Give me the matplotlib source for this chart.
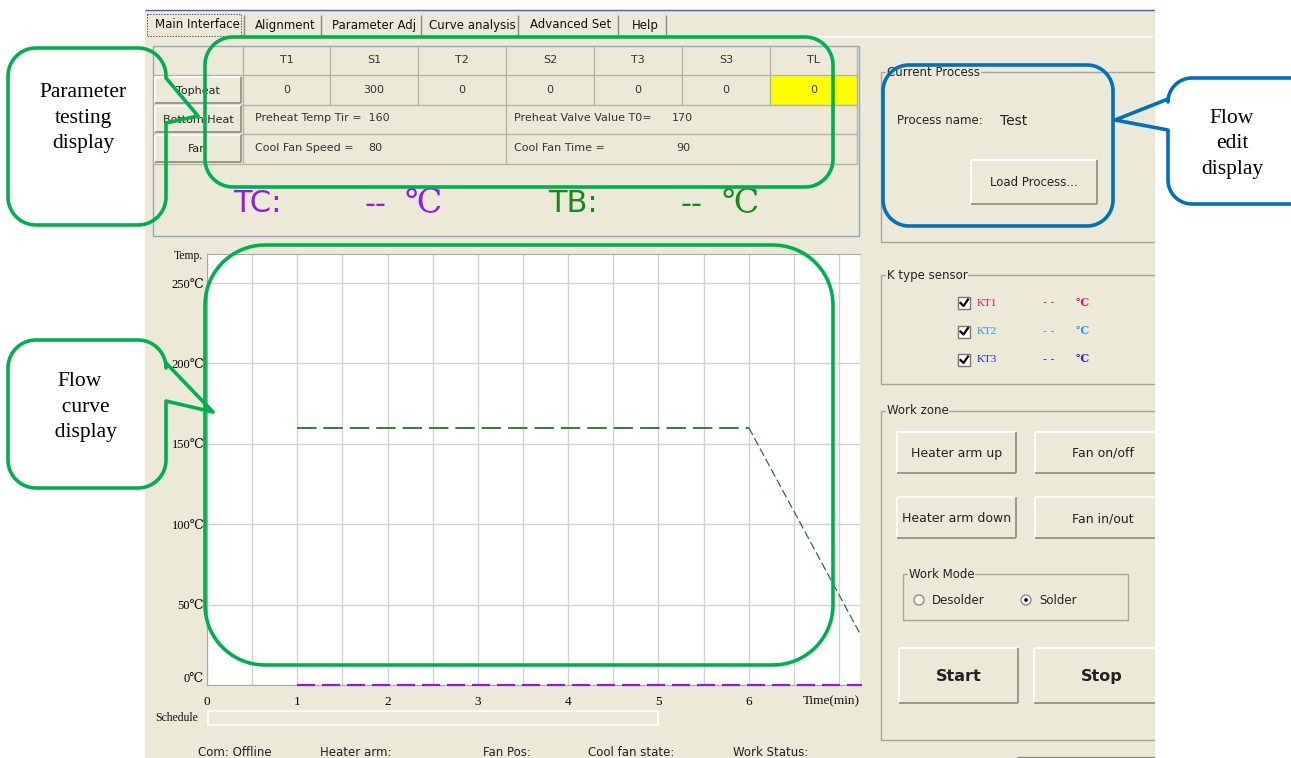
import numpy as np
import matplotlib
matplotlib.use("Agg")
import matplotlib.pyplot as plt
from matplotlib.patches import Rectangle, Polygon, Circle
from matplotlib.ticker import MultipleLocator

plt.rcParams["lines.scale_dashes"] = False

W, H = 1291, 758
BEIGE = "#ECE9D8"
LINE = "#B5B3A6"
SERIF = ["Liberation Serif", "DejaVu Serif", "Noto Sans CJK SC"]
SANS = ["DejaVu Sans", "Noto Sans CJK SC"]

# ---- data shown in the screenshot ----
tabs = ["Main Interface", "Alignment", "Parameter Adj", "Curve analysis", "Advanced Set", "Help"]
table_cols = ["T1", "S1", "T2", "S2", "T3", "S3", "TL"]
topheat_vals = [0, 300, 0, 0, 0, 0, 0]
preheat_temp = 160
preheat_valve = 170
cool_fan_speed = 80
cool_fan_time = 90
sensors = ["KT1", "KT2", "KT3"]
sensor_colors = ["#E0106A", "#2A96F0", "#2424D0"]
status_items = ["Com: Offline", "Heater arm:", "Fan Pos:", "Cool fan state:", "Work Status:"]

# reflow profile (min, degC)
set_time = [1, 6]
set_temp = [160, 160]
cool_time = [6, 7.25]
cool_temp = [160, 30]
tc_time = [1, 7.25]
tc_temp = [0, 0]
y_ticks = [0, 50, 100, 150, 200, 250]
x_ticks = [0, 1, 2, 3, 4, 5, 6]

fig = plt.figure(figsize=(W / 100, H / 100), dpi=100)
fig.patch.set_facecolor("white")

bg = fig.add_axes([0, 0, 1, 1], zorder=0)
bg.set_xlim(0, W)
bg.set_ylim(H, 0)
bg.axis("off")


def hline(ax, x0, x1, y, color=LINE, lw=1, z=2):
    ax.plot([x0, x1], [y, y], color=color, lw=lw, zorder=z, solid_capstyle="butt")


def vline(ax, x, y0, y1, color=LINE, lw=1, z=2):
    ax.plot([x, x], [y0, y1], color=color, lw=lw, zorder=z, solid_capstyle="butt")


def button(x0, y0, x1, y1, label, size=9, weight="normal"):
    bg.add_patch(Rectangle((x0, y0), x1 - x0, y1 - y0, fc=BEIGE, ec="none", zorder=2))
    hline(bg, x0, x1, y0, "white", 1.2, 3)
    vline(bg, x0, y0, y1, "white", 1.2, 3)
    hline(bg, x0, x1, y1, "#8C8A7E", 1.2, 3)
    vline(bg, x1, y0, y1, "#8C8A7E", 1.2, 3)
    bg.text((x0 + x1) / 2, (y0 + y1) / 2 + 1, label, ha="center", va="center",
            fontsize=size, fontweight=weight, family=SANS, color="#222222", zorder=4)


def group(x0, y0, x1, y1, label):
    bg.add_patch(Rectangle((x0, y0), x1 - x0, y1 - y0, fc="none", ec="#A8A69A", lw=1, zorder=2))
    bg.text(x0 + 6, y0, label, ha="left", va="center", fontsize=8.5, family=SANS,
            color="#222222", zorder=4,
            bbox=dict(fc=BEIGE, ec="none", pad=0.5))


# GUI background
bg.add_patch(Rectangle((145, 10), 1010, H, fc=BEIGE, ec="none", zorder=1))
hline(bg, 145, 1155, 9.5, "#3A62C0", 1.0, 2)

# tabs
tab_edges = [146, 246, 323, 423, 520, 620, 668]
for i, name in enumerate(tabs):
    x0, x1 = tab_edges[i], tab_edges[i + 1]
    bg.text((x0 + x1) / 2 + 1, 25, name, ha="center", va="center", fontsize=8.5,
            family=SANS, color="#111111", zorder=4)
    vline(bg, x1 - 2, 15, 36, "#8C8A7E", 1, 3)
bg.add_patch(Rectangle((147, 14), 94, 22, fc="none", ec="#555555", lw=0.7, ls=(0, (1, 1)), zorder=3))
hline(bg, 668, 1153, 36.5, "white", 1.2, 2)

# parameter table
bg.add_patch(Rectangle((153, 46), 706, 190, fc="none", ec="#93A6C2", lw=1, zorder=2))
col_edges = [243, 330, 418, 506, 594, 682, 770, 857]
row_edges = [46, 75, 105, 134, 164]
bg.add_patch(Rectangle((770, 75), 87, 30, fc="#FFFF00", ec="none", zorder=2))
for y in row_edges[1:]:
    hline(bg, 153, 857, y)
vline(bg, 857, 46, 164)
vline(bg, 243, 46, 164)
for x in col_edges[1:-1]:
    vline(bg, x, 46, 105)
vline(bg, 506, 105, 164)
for i, name in enumerate(table_cols):
    cx = (col_edges[i] + col_edges[i + 1]) / 2
    bg.text(cx, 60, name, ha="center", va="center", fontsize=8, family=SANS, color="#333333", zorder=4)
    bg.text(cx, 90, str(topheat_vals[i]), ha="center", va="center", fontsize=8, family=SANS,
            color="#333333", zorder=4)
button(155, 77, 241, 103, "Topheat", 8)
button(155, 106, 241, 132, "Bottom Heat", 8)
button(155, 135, 241, 162, "Fan", 8)
tkw = dict(va="center", fontsize=8, family=SANS, color="#333333", zorder=4)
bg.text(255, 118, f"Preheat Temp Tir =  {preheat_temp}", ha="left", **tkw)
bg.text(514, 118, "Preheat Valve Value T0=", ha="left", **tkw)
bg.text(672, 118, str(preheat_valve), ha="left", **tkw)
bg.text(255, 148, "Cool Fan Speed =", ha="left", **tkw)
bg.text(368, 148, str(cool_fan_speed), ha="left", **tkw)
bg.text(514, 148, "Cool Fan Time =", ha="left", **tkw)
bg.text(676, 148, str(cool_fan_time), ha="left", **tkw)

# TC / TB readouts
bg.text(233, 204, "TC:", ha="left", va="center", fontsize=22, family=SANS, color="#8A1CF0", zorder=4)
bg.text(365, 204, "--", ha="left", va="center", fontsize=22, family=SANS, color="#8A1CF0", zorder=4)
bg.text(404, 204, "℃", ha="left", va="center", fontsize=24, family=SERIF, color="#8A1CF0", zorder=4)
bg.text(548, 204, "TB:", ha="left", va="center", fontsize=22, family=SANS, color="#1E861E", zorder=4)
bg.text(680, 204, "--", ha="left", va="center", fontsize=22, family=SANS, color="#1E861E", zorder=4)
bg.text(721, 204, "℃", ha="left", va="center", fontsize=24, family=SERIF, color="#1E861E", zorder=4)

# chart labels outside plot
bg.text(203, 256, "Temp.", ha="right", va="center", fontsize=8.5, family=SERIF, color="#111111", zorder=4)
bg.text(155, 718, "Schedule", ha="left", va="center", fontsize=8.5, family=SERIF, color="#111111", zorder=4)
bg.add_patch(Rectangle((208, 711), 450, 14, fc=BEIGE, ec="white", lw=1.2, zorder=2))

# status bar along the bottom edge
for x, s in zip([198, 320, 483, 588, 733], status_items):
    bg.text(x, 756.5, s, ha="left", va="baseline", fontsize=8.5, family=SANS, color="#222222", zorder=4)
hline(bg, 1017, 1155, 756.5, "#8C8A7E", 1, 3)

# right panel
group(881, 72, 1170, 242, "Current Process")
bg.text(897, 121, "Process name:", ha="left", va="center", fontsize=8.5, family=SANS, color="#222222", zorder=4)
bg.text(1000, 121, "Test", ha="left", va="center", fontsize=10, family=SANS, color="#222222", zorder=4)
button(971, 160, 1097, 204, "Load Process...", 8.5)

group(881, 275, 1170, 384, "K type sensor")
for i, (name, col) in enumerate(zip(sensors, sensor_colors)):
    y = 303 + i * 28.5
    bg.add_patch(Rectangle((958, y - 6), 12, 12, fc="white", ec="#777777", lw=1, zorder=3))
    bg.plot([960.5, 963.5, 968], [y, y + 3, y - 3.5], color="black", lw=1.6, zorder=4)
    bg.text(977, y, name, ha="left", va="center", fontsize=8, family=SERIF, color=col, zorder=4)
    bg.text(1043, y - 1, "- -", ha="left", va="center", fontsize=8, family=SANS, color=col, zorder=4)
    bg.text(1076, y, "℃", ha="left", va="center", fontsize=8, family=SERIF, color=col,
            fontweight="bold", zorder=4)

group(881, 411, 1170, 740, "Work zone")
button(897, 432, 1016, 473, "Heater arm up", 9)
button(1035, 432, 1170, 473, "Fan on/off", 9)
button(897, 497, 1016, 538, "Heater arm down", 9)
button(1035, 497, 1170, 538, "Fan in/out", 9)
group(903, 574, 1128, 620, "Work Mode")
bg.add_patch(Circle((919, 600), 5, fc="white", ec="#8C8A7E", lw=1, zorder=3))
bg.text(932, 600, "Desolder", ha="left", va="center", fontsize=8.5, family=SANS, color="#222222", zorder=4)
bg.add_patch(Circle((1026, 600), 5, fc="white", ec="#8C8A7E", lw=1, zorder=3))
bg.add_patch(Circle((1026, 600), 1.8, fc="black", ec="none", zorder=4))
bg.text(1039, 600, "Solder", ha="left", va="center", fontsize=8.5, family=SANS, color="#222222", zorder=4)
button(899, 648, 1018, 703, "Start", 11.5, "semibold")
button(1034, 648, 1170, 703, "Stop", 11.5, "semibold")

# white area right of the program window
bg.add_patch(Rectangle((1155, 0), W - 1155, H, fc="white", ec="none", zorder=6))

# ---- temperature curve chart ----
x_px, px_per_min = 207, 90.3
y0_px, px_per_deg = 685, 1.608
chart = fig.add_axes([x_px / W, (H - y0_px) / H, (860 - x_px) / W, (y0_px - 254) / H], zorder=1)
chart.set_facecolor("white")
chart.set_xlim(0, (860 - x_px) / px_per_min)
chart.set_ylim(0, (y0_px - 254) / px_per_deg)
chart.xaxis.set_minor_locator(MultipleLocator(0.5))
chart.set_xticks(x_ticks, labels=[str(v) for v in x_ticks])
chart.set_yticks(y_ticks, labels=[f"{v}℃" for v in y_ticks])
chart.grid(True, which="both", color="#D2D2D2", lw=1)
chart.tick_params(which="both", length=0)
chart.tick_params(axis="x", pad=8, labelsize=9.5)
chart.tick_params(axis="y", pad=2, labelsize=9)
for lab in chart.get_xticklabels() + chart.get_yticklabels():
    lab.set_family(SERIF)
chart.get_yticklabels()[0].set_va("bottom")
for side in ["left", "bottom", "top"]:
    chart.spines[side].set_color("#A8A8A8")
chart.spines["right"].set_visible(False)
chart.set_axisbelow(True)

chart.plot(set_time, set_temp, color="#1E7A1E", lw=1.3, dashes=(14, 5))
chart.plot(cool_time, cool_temp, color="#1E7A1E", lw=0.9, dashes=(6, 2.5))
chart.plot(tc_time, tc_temp, color="#8A1CF0", lw=1.6, dashes=(13, 5), clip_on=False, zorder=5)
chart.text(1.0, -0.025, "Time(min)", transform=chart.transAxes, ha="right", va="top",
           fontsize=9.5, family=SERIF, color="#111111")

# ---- callout annotations ----
top = fig.add_axes([0, 0, 1, 1], zorder=3)
top.set_xlim(0, W)
top.set_ylim(H, 0)
top.axis("off")
top.patch.set_alpha(0)


def arc(cx, cy, r, a0, a1):
    t = np.radians(np.linspace(a0, a1, 20))
    return list(zip(cx + r * np.cos(t), cy + r * np.sin(t)))


def callout(x0, y0, x1, y1, r, color, tail=None):
    pts = []
    pts += arc(x1 - r, y0 + r, r, -90, 0)
    if tail and tail[0] == "right":
        _, a, b, tip = tail
        pts += [(x1, a), tip, (x1, b)]
    pts += arc(x1 - r, y1 - r, r, 0, 90)
    pts += arc(x0 + r, y1 - r, r, 90, 180)
    if tail and tail[0] == "left":
        _, a, b, tip = tail
        pts += [(x0, b), tip, (x0, a)]
    pts += arc(x0 + r, y0 + r, r, 180, 270)
    top.add_patch(Polygon(pts, closed=True, fc="none", ec=color, lw=2.6, joinstyle="round"))


GREEN, BLUE = "#00B050", "#0070C0"
callout(8, 48, 166, 225, 28, GREEN, ("right", 78, 123, (198, 116)))
callout(205, 37, 833, 187, 28, GREEN)
callout(8, 340, 166, 488, 28, GREEN, ("right", 363, 401, (213, 412)))
callout(205, 245, 833, 665, 60, GREEN)
callout(883, 65, 1113, 226, 26, BLUE)
callout(1168, 78, 1320, 204, 24, BLUE, ("left", 99, 130, (1115, 120)))

ckw = dict(ha="center", va="center", fontsize=15.5, family=SERIF, color="black", linespacing=1.45)
top.text(83, 118, "Parameter\ntesting\ndisplay", **ckw)
top.text(80, 407, "Flow\n  curve\n  display", **ckw)
top.text(1232, 144, "Flow\nedit\ndisplay", **ckw)

fig.savefig("out.png", dpi=100)
